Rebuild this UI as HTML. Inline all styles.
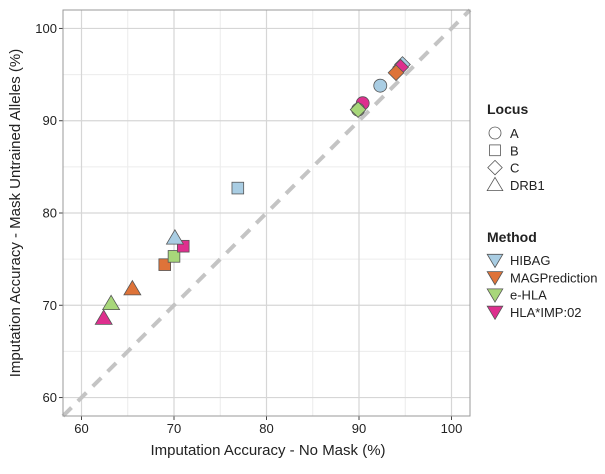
<!DOCTYPE html>
<html><head><meta charset="utf-8"><style>
body{margin:0;background:#fff}
svg text{font-family:"Liberation Sans",sans-serif;fill:#222}
</style></head><body>
<svg id="chart" width="605" height="469">
<g id="grid"></g><g id="marks"></g><g id="axes"></g>
<g id="legend">
<text x="487" y="114" font-size="14" font-weight="bold">Locus</text>
<text x="487" y="242" font-size="14" font-weight="bold">Method</text>
</g>
<text x="268" y="455" font-size="15" text-anchor="middle">Imputation Accuracy - No Mask (%)</text>
<text transform="translate(20,213) rotate(-90)" font-size="15" text-anchor="middle">Imputation Accuracy - Mask Untrained Alleles (%)</text>
</svg>
<script>
const methods=["HIBAG","MAGPrediction","e-HLA","HLA*IMP:02"];
const colors=["#a9cde3","#de7339","#a8d77a","#de2f8e"];
const loci=["A","B","C","DRB1"];
const ptMethod=["HIBAG","HLA*IMP:02","e-HLA","HIBAG","MAGPrediction","e-HLA","HLA*IMP:02","HIBAG","HLA*IMP:02","MAGPrediction","e-HLA","HIBAG","MAGPrediction","e-HLA","HLA*IMP:02"];
const ptLocus=["A","A","A","B","B","B","B","C","C","C","C","DRB1","DRB1","DRB1","DRB1"];
const xVals=[92.3,90.4,89.9,76.9,69.0,70.0,71.0,94.7,94.5,94.0,89.9,70.1,65.5,63.2,62.4];
const yVals=[93.8,91.9,91.2,82.7,74.4,75.3,76.4,96.1,95.8,95.2,91.2,77.3,71.8,70.2,68.6];
const ticks=[60,70,80,90,100];
const minor=[65,75,85,95];
const L=63,R=470,T=10,B=416,D0=58,D1=102;
const sx=v=>L+(v-D0)/(D1-D0)*(R-L);
const sy=v=>B-(v-D0)/(D1-D0)*(B-T);
const NS="http://www.w3.org/2000/svg";
function mk(tag,attrs,parent){const e=document.createElementNS(NS,tag);for(const k in attrs)e.setAttribute(k,attrs[k]);parent.appendChild(e);return e;}
const grid=document.getElementById('grid'),axes=document.getElementById('axes'),marks=document.getElementById('marks'),leg=document.getElementById('legend');
minor.forEach(v=>{
 let a=mk('line',{x1:sx(v),x2:sx(v),y1:T,y2:B,stroke:'#ececec','stroke-width':1},grid);
 
 let b=mk('line',{x1:L,x2:R,y1:sy(v),y2:sy(v),stroke:'#ececec','stroke-width':1},grid);
 
});
ticks.forEach(v=>{
 let a=mk('line',{x1:sx(v),x2:sx(v),y1:T,y2:B,stroke:'#d6d6d6','stroke-width':1.2},grid);
 
 let b=mk('line',{x1:L,x2:R,y1:sy(v),y2:sy(v),stroke:'#d6d6d6','stroke-width':1.2},grid);
 
 mk('line',{x1:sx(v),x2:sx(v),y1:B,y2:B+4,stroke:'#444'},axes);
 mk('line',{x1:L-4,x2:L,y1:sy(v),y2:sy(v),stroke:'#444'},axes);
 let tx=mk('text',{x:sx(v),y:B+17,'font-size':13,'text-anchor':'middle'},axes);tx.textContent=v;
 
 let ty=mk('text',{x:L-6,y:sy(v)+4.5,'font-size':13,'text-anchor':'end'},axes);ty.textContent=v;
 
});
let fr=mk('rect',{x:L,y:T,width:R-L,height:B-T,fill:'none',stroke:'#999','stroke-width':1},axes);

let dg=mk('line',{x1:sx(D0),y1:sy(D0),x2:sx(D1),y2:sy(D1),stroke:'#c4c4c4','stroke-width':4,'stroke-dasharray':'12 9'},grid);

function shape(loc,cx,cy,r,fill,stroke,parent,down){
 let e;
 if(loc==="A")e=mk('circle',{cx:cx,cy:cy,r:r},parent);
 else if(loc==="B")e=mk('rect',{x:cx-r*0.9,y:cy-r*0.9,width:r*1.8,height:r*1.8},parent);
 else if(loc==="C")e=mk('polygon',{points:`${cx},${cy-r*1.2} ${cx+r*1.2},${cy} ${cx},${cy+r*1.2} ${cx-r*1.2},${cy}`},parent);
 else {const s=down?-1:1;e=mk('polygon',{points:`${cx},${cy-s*r*1.25} ${cx+r*1.3},${cy+s*r*0.95} ${cx-r*1.3},${cy+s*r*0.95}`},parent);}
 e.setAttribute('fill',fill);e.setAttribute('stroke',stroke);e.setAttribute('stroke-width',0.8);
 return e;
}
xVals.forEach((x,i)=>{
 const c=colors[methods.indexOf(ptMethod[i])];
 const e=shape(ptLocus[i],sx(x),sy(yVals[i]),6.5,c,'#555',marks,false);
 
 
});
loci.forEach((l,i)=>{
 const y=133+i*17.3;
 const e=shape(l,495,y,6,'none','#555',leg,false);
 
 
 const t=mk('text',{x:510,y:y+5,'font-size':13},leg);t.textContent=l;
 
 
});
methods.forEach((m,i)=>{
 const y=260+i*17.3;
 const e=shape('DRB1',495,y,6,colors[i],'#555',leg,true);
 
 
 const t=mk('text',{x:510,y:y+5,'font-size':13},leg);t.textContent=m;
 
 
});
</script>
</body></html>
